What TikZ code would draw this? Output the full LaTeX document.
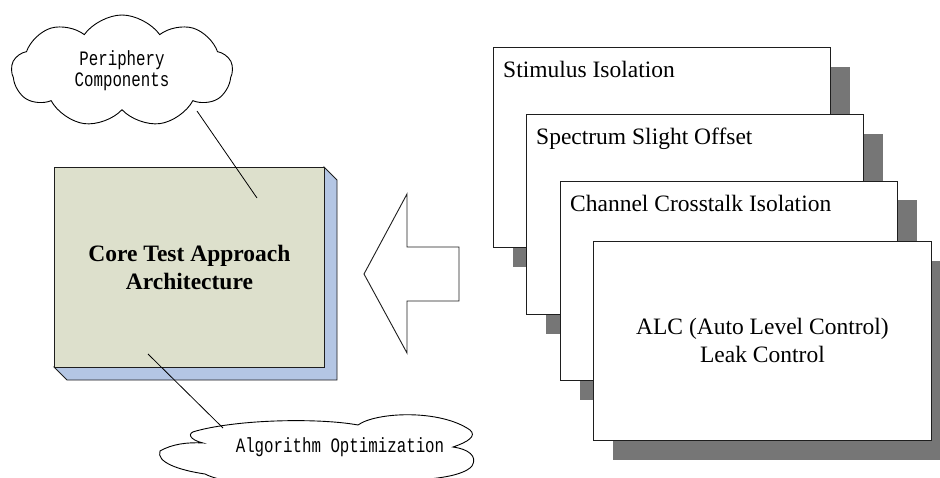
\documentclass[tikz,border=0pt]{standalone}
\usepackage{fontspec}
\setmainfont{Liberation Serif}
\newfontfamily\cloudfont[FakeStretch=0.77]{Liberation Mono}
\usetikzlibrary{shapes.symbols,calc}

\definecolor{corefront}{RGB}{221,224,204}
\definecolor{coreside}{RGB}{180,198,228}
\definecolor{cardshadow}{RGB}{118,118,118}
\definecolor{edge}{RGB}{30,30,30}

\tikzset{
  x=1pt, y=-1pt,
  thinline/.style={draw=edge, line width=0.9pt},
  cloudline/.style={draw=black, line width=0.9pt, fill=white},
  cloudtext/.style={inner sep=0pt, align=center,
    font=\cloudfont\fontsize{20.5}{21}\selectfont},
  bubble/.style={cloud, cloudline, cloud ignores aspect, cloudtext},
  cardbox/.style={thinline, fill=white},
  cardshade/.style={fill=cardshadow, draw=none},
  cardtext/.style={anchor=base west, inner sep=0pt,
    font=\fontsize{23.5}{28}\selectfont},
  pointer/.style={draw=black, line width=0.8pt},
}

\begin{document}
\begin{tikzpicture}
\clip (0,0) rectangle (940,478);
\fill[white] (0,0) rectangle (940,478);

% raised core block: side faces first, then the front face
\draw[thinline, fill=coreside]
  (324,167) -- (337,180) -- (337,380) -- (67,380) -- (54,367) -- (324,367) -- cycle;
\node[thinline, fill=corefront, minimum width=270pt, minimum height=200pt,
      inner sep=0pt, anchor=north west] (core) at (54,167) {};
\node[align=center, font=\bfseries\fontsize{23.5}{28}\selectfont] (coretext)
  at (core.center) {Core Test Approach\\Architecture};

% upper callout cloud
\node[bubble, minimum width=221pt, minimum height=112pt, cloud puffs=9,
      cloud puff arc=110] (peri) at (122,71) {Periphery\\Components};

% lower callout cloud: a flat, wide outline drawn by hand
\draw[cloudline]
  (160,451)
  .. controls (172,444) and (188,442) .. (203,443)
  .. controls (190,440) and (186,433) .. (196,431)
  .. controls (240,419) and (320,418) .. (358,425)
  .. controls (376,412) and (440,409) .. (470,430)
  .. controls (477,436) and (468,442) .. (453,447)
  .. controls (468,449) and (478,456) .. (472,466)
  .. controls (462,478) and (420,482) .. (367,480)
  .. controls (320,490) and (232,488) .. (205,474)
  .. controls (178,470) and (156,462) .. cycle;
\node[cloudtext] (algo) at (340,447) {Algorithm Optimization};

% pointers from the clouds into the core block
\coordinate (perifoot) at (197,111);
\coordinate (algofoot) at (223,428);
\coordinate (peritip) at (257,198);
\coordinate (algotip) at (148,354);
\draw[pointer] (perifoot) -- (peritip);
\draw[pointer] (algofoot) -- (algotip);

% block arrow pointing at the core
\draw[thinline, fill=white]
  (364,274) -- (407,194) -- (407,247) -- (459,247) -- (459,301)
  -- (407,301) -- (407,353) -- cycle;

% stacked cards with drop shadows
\fill[cardshade] (513,67) rectangle (850,267);
\node[cardbox, minimum width=337pt, minimum height=200pt, inner sep=0pt,
      anchor=north west] (c1) at (493,47) {};
\node[cardtext] at ($(c1.north west)+(10,31)$) {Stimulus Isolation};

\fill[cardshade] (546,134) rectangle (883,334);
\node[cardbox, minimum width=337pt, minimum height=200pt, inner sep=0pt,
      anchor=north west] (c2) at (526,114) {};
\node[cardtext] at ($(c2.north west)+(10,31)$) {Spectrum Slight Offset};

\fill[cardshade] (580,200) rectangle (917,400);
\node[cardbox, minimum width=337pt, minimum height=199pt, inner sep=0pt,
      anchor=north west] (c3) at (560,181) {};
\node[cardtext] at ($(c3.north west)+(10,31)$) {Channel Crosstalk Isolation};

\fill[cardshade] (613,261) rectangle (951,460);
\node[cardbox, minimum width=338pt, minimum height=199pt, inner sep=0pt,
      anchor=north west] (c4) at (593,241) {};
\node[align=center, font=\fontsize{23.5}{28}\selectfont] (c4text)
  at (c4.center) {ALC (Auto Level Control)\\Leak Control};
\end{tikzpicture}
\end{document}
